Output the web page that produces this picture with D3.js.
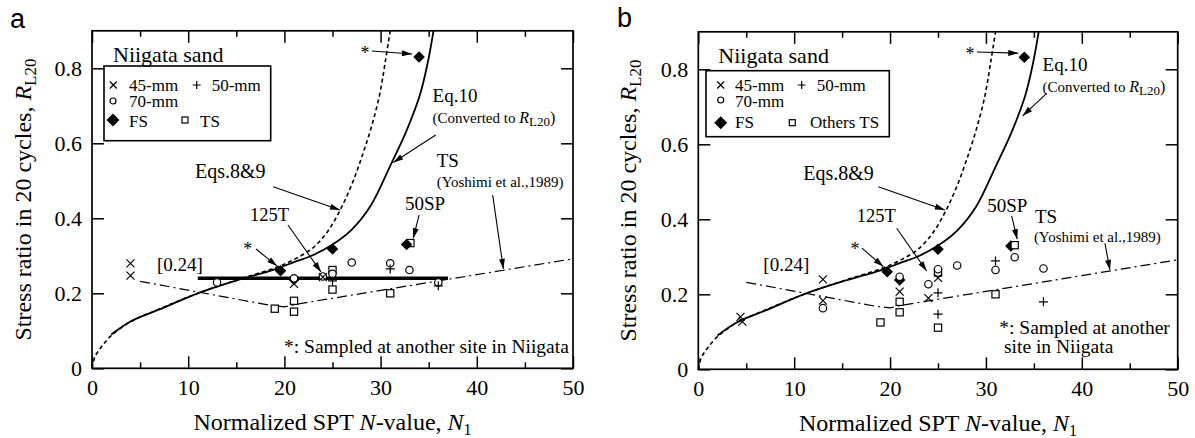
<!DOCTYPE html>
<html>
<head>
<meta charset="utf-8">
<script src="https://cdn.jsdelivr.net/npm/d3@7"></script>
<style>
body { margin: 0; background: #fff; }
</style>
</head>
<body>
<div id="chart"></div>
<script>
const N_TICKS = [0, 10, 20, 30, 40, 50]
const N_MINOR = [5, 15, 25, 35, 45]
const R_TICKS = [0, 0.2, 0.4, 0.6, 0.8]

// curves [N1, RL20]
const eq89 = [[0, 0], [0.3, 0.03], [1, 0.058], [2, 0.087], [4, 0.124], [7, 0.158], [11, 0.2], [15, 0.235],
  [19, 0.268], [21, 0.29], [23, 0.322], [24.5, 0.365], [25.8, 0.422], [27, 0.49], [28, 0.56], [29, 0.64],
  [29.9, 0.73], [30.5, 0.82], [31, 0.9]]
const eq10 = [[2, 0.09], [4, 0.125], [7, 0.157], [11, 0.2], [15, 0.234], [19, 0.264], [21, 0.283], [23, 0.302],
  [25, 0.33], [27, 0.37], [29, 0.435], [31, 0.54], [32.7, 0.634], [34.1, 0.73], [34.9, 0.815], [35.5, 0.9]]
const tsYoshimi = [[5, 0.232], [18.5, 0.168], [20, 0.164], [21.5, 0.172], [50, 0.292]]
const bar024 = [[11, 0.24], [37, 0.24]]

// panel a points
const a45 = [[4, 0.28], [4, 0.247], [21, 0.225], [24, 0.243]]
const a50 = [[25, 0.233], [31, 0.265], [36, 0.22]]
const a70 = [[13, 0.229], [21, 0.24], [24, 0.245], [25, 0.252], [27, 0.282], [31, 0.28], [33, 0.262], [36, 0.229]]
const aFS = [[19.6, 0.26], [21, 0.237], [25, 0.318], [32.7, 0.33], [34, 0.83]]
const aTS = [[19, 0.159], [21, 0.18], [21, 0.151], [25, 0.262], [25, 0.21], [31, 0.2], [33.1, 0.334]]

// panel b points
const b45 = [[4.4, 0.14], [4.6, 0.127], [13, 0.24], [13, 0.183], [21, 0.207], [24, 0.19], [25, 0.244]]
const b50 = [[25, 0.204], [25, 0.147], [31, 0.289], [36, 0.18]]
const b70 = [[13, 0.163], [21, 0.247], [24, 0.227], [25, 0.267], [27, 0.277], [31, 0.265], [33, 0.299], [36, 0.269]]
const bFS = [[19.7, 0.26], [21, 0.238], [25, 0.32], [32.6, 0.329], [34, 0.832]]
const bTS = [[19, 0.125], [21, 0.18], [21, 0.152], [25, 0.258], [25, 0.111], [31, 0.2], [33, 0.331]]

const W = 1195, H = 438

const svg = d3.select("#chart").append("svg")
  .attr("width", W)
  .attr("height", H)

const defs = svg.append("defs")
defs.append("marker")
  .attr("id", "arr")
  .attr("viewBox", "0 0 10 6")
  .attr("refX", 10).attr("refY", 3)
  .attr("markerWidth", 11).attr("markerHeight", 6)
  .attr("markerUnits", "userSpaceOnUse")
  .attr("orient", "auto")
  .append("path").attr("d", "M0,0L10,3L0,6Z").attr("fill", "#000")

function mark(sel, type, cx, cy, s) {
  if (type === "x") {
    sel.append("path")
      .attr("d", `M${cx - s},${cy - s}L${cx + s},${cy + s}M${cx - s},${cy + s}L${cx + s},${cy - s}`)
      .attr("stroke", "#000").attr("stroke-width", 1.2).attr("fill", "none")
  } else if (type === "+") {
    sel.append("path")
      .attr("d", `M${cx - s},${cy}L${cx + s},${cy}M${cx},${cy - s}L${cx},${cy + s}`)
      .attr("stroke", "#000").attr("stroke-width", 1.2).attr("fill", "none")
  } else if (type === "o") {
    sel.append("circle").attr("cx", cx).attr("cy", cy).attr("r", s)
      .attr("fill", "#fff").attr("stroke", "#000").attr("stroke-width", 1.2)
  } else if (type === "s") {
    sel.append("rect").attr("x", cx - s).attr("y", cy - s).attr("width", 2 * s).attr("height", 2 * s)
      .attr("fill", "#fff").attr("stroke", "#000").attr("stroke-width", 1.2)
  } else if (type === "d") {
    sel.append("path")
      .attr("d", `M${cx},${cy - s}L${cx + s},${cy}L${cx},${cy + s}L${cx - s},${cy}Z`)
      .attr("fill", "#000")
  }
}

const SIZE = { x: 4, "+": 4.5, o: 3.7, s: 3.6, d: 5.8 }

function drawPanel(cfg) {
  const g = svg.append("g").attr("transform", `translate(${cfg.left},${cfg.top})`)
  const x = d3.scaleLinear().domain([0, 50]).range([0, cfg.w])
  const y = d3.scaleLinear().domain([0, 0.9]).range([cfg.h, 0])

  // axes, ticks pointing inward
  const fmtR = d => d === 0 ? "0" : d3.format(".1f")(d)
  const ax = [
    g.append("g").attr("transform", `translate(0,${cfg.h})`)
      .call(d3.axisBottom(x).tickValues(N_TICKS).tickSize(-12).tickPadding(11)),
    g.append("g").attr("transform", `translate(0,${cfg.h})`)
      .call(d3.axisBottom(x).tickValues(N_MINOR).tickSize(-6).tickFormat("")),
    g.append("g").call(d3.axisTop(x).tickValues(N_TICKS).tickSize(-12).tickFormat("")),
    g.append("g").call(d3.axisTop(x).tickValues(N_MINOR).tickSize(-6).tickFormat("")),
    g.append("g").call(d3.axisLeft(y).tickValues(R_TICKS).tickSize(-12).tickPadding(10).tickFormat(fmtR)),
    g.append("g").attr("transform", `translate(${cfg.w},0)`)
      .call(d3.axisRight(y).tickValues(R_TICKS).tickSize(-12).tickFormat(""))
  ]
  ax.forEach(a => {
    a.attr("font-size", 22)
    a.select(".domain").remove()
    a.selectAll(".tick line").attr("stroke-width", 1.5)
  })

  g.append("rect")
    .attr("width", cfg.w).attr("height", cfg.h)
    .attr("fill", "none").attr("stroke", "#000").attr("stroke-width", 1.7)

  // axis titles
  const xt = g.append("text")
    .attr("x", cfg.w / 2).attr("y", cfg.h + 62)
    .attr("text-anchor", "middle").attr("font-size", 24)
  xt.append("tspan").text("Normalized SPT ")
  xt.append("tspan").attr("font-style", "italic").text("N")
  xt.append("tspan").text("-value, ")
  xt.append("tspan").attr("font-style", "italic").text("N")
  xt.append("tspan").attr("font-size", 16).attr("dy", 5).text("1")

  const yt = g.append("text")
    .attr("transform", `translate(${-cfg.ytOff},${cfg.h / 2}) rotate(-90)`)
    .attr("text-anchor", "middle").attr("font-size", 24)
  yt.append("tspan").text("Stress ratio in 20 cycles, ")
  yt.append("tspan").attr("font-style", "italic").text("R")
  yt.append("tspan").attr("font-size", 17).attr("dy", 5).text("L20")

  // curves
  const line = d3.line().x(d => x(d[0])).y(d => y(d[1]))
  const smooth = d3.line().x(d => x(d[0])).y(d => y(d[1])).curve(d3.curveCatmullRom)

  g.append("path").attr("d", line(tsYoshimi))
    .attr("fill", "none").attr("stroke", "#000").attr("stroke-width", 1.2)
    .attr("stroke-dasharray", "10,4,2,4")
  g.append("path").attr("d", smooth(eq89))
    .attr("fill", "none").attr("stroke", "#000").attr("stroke-width", 1.6)
    .attr("stroke-dasharray", "4,3")
  g.append("path").attr("d", smooth(eq10))
    .attr("fill", "none").attr("stroke", "#000").attr("stroke-width", 1.8)
  if (cfg.bar) {
    g.append("path").attr("d", line(bar024))
      .attr("fill", "none").attr("stroke", "#000").attr("stroke-width", 3.5)
  }

  // points
  const pts = g.append("g")
  cfg.series.forEach(([type, arr]) => {
    arr.forEach(d => mark(pts, type, x(d[0]), y(d[1]), SIZE[type]))
  })

  // legend
  const lg = g.append("g").attr("transform", `translate(${cfg.legend.x},${cfg.legend.y})`)
  lg.append("rect").attr("width", cfg.legend.w).attr("height", cfg.legend.h)
    .attr("fill", "#fff").attr("stroke", "#000").attr("stroke-width", 1.6)
  lg.append("text").attr("x", cfg.legend.title[0]).attr("y", cfg.legend.title[1])
    .attr("font-size", 22).text("Niigata sand")
  const LSIZE = { x: 3.5, "+": 4, o: 3, s: 3, d: 6.5 }
  cfg.legend.items.forEach(it => {
    mark(lg, it.sym, it.sx, it.sy, LSIZE[it.sym])
    lg.append("text").attr("x", it.tx).attr("y", it.ty).attr("font-size", 17).text(it.t)
  })

  // annotations
  cfg.texts.forEach(a => {
    const t = g.append("text")
      .attr("x", x(a.at[0])).attr("y", y(a.at[1]))
      .attr("font-size", a.fs || 19)
      .attr("text-anchor", a.anchor || "start")
    if (a.conv) {
      t.append("tspan").text("(Converted to ")
      t.append("tspan").attr("font-style", "italic").attr("font-size", 16).text("R")
      t.append("tspan").attr("font-size", 13).attr("dy", 3).text("L20")
      t.append("tspan").attr("font-size", 16).attr("dy", -3).text(")")
    } else {
      t.text(a.t)
    }
  })
  cfg.arrows.forEach(a => {
    g.append("line")
      .attr("x1", x(a[0][0])).attr("y1", y(a[0][1]))
      .attr("x2", x(a[1][0])).attr("y2", y(a[1][1]))
      .attr("stroke", "#000").attr("stroke-width", 1.1)
      .attr("marker-end", "url(#arr)")
  })
}

drawPanel({
  left: 92, top: 30.8, w: 481, h: 337.5, ytOff: 61, bar: true,
  series: [["s", aTS], ["d", aFS], ["o", a70], ["x", a45], ["+", a50]],
  legend: {
    x: 12, y: 35.2, w: 166.7, h: 74.7, title: [9, -4.3],
    items: [
      { sym: "x", sx: 9.3, sy: 19, tx: 25, ty: 24.7, t: "45-mm" },
      { sym: "+", sx: 92.7, sy: 19, tx: 107.7, ty: 24.7, t: "50-mm" },
      { sym: "o", sx: 9, sy: 35, tx: 25, ty: 40.7, t: "70-mm" },
      { sym: "d", sx: 9, sy: 54, tx: 25, ty: 61, t: "FS" },
      { sym: "s", sx: 81, sy: 54, tx: 96, ty: 61, t: "TS" }
    ]
  },
  texts: [
    { t: "Eqs.8&9", at: [10.71, 0.507], fs: 20 },
    { t: "125T", at: [16.42, 0.393], fs: 18.5 },
    { t: "*", at: [16.2, 0.302], fs: 18, anchor: "middle" },
    { t: "*", at: [28.38, 0.825], fs: 18, anchor: "middle" },
    { t: "Eq.10", at: [35.4, 0.711] },
    { conv: true, at: [35.4, 0.654], fs: 15 },
    { t: "TS", at: [35.83, 0.538] },
    { t: "(Yoshimi et al.,1989)", at: [35.83, 0.484], fs: 15 },
    { t: "50SP", at: [32.54, 0.422] },
    { t: "[0.24]", at: [6.76, 0.259] },
    { t: "*: Sampled at another site in Niigata", at: [19.96, 0.04], fs: 19.5 }
  ],
  arrows: [
    [[18.82, 0.484], [25.78, 0.422]],
    [[20.37, 0.382], [23.8, 0.257]],
    [[17.05, 0.318], [19.23, 0.273]],
    [[29.1, 0.846], [33.26, 0.838]],
    [[35.73, 0.622], [31.32, 0.549]],
    [[41.65, 0.462], [42.76, 0.265]],
    [[34.0, 0.409], [33.4, 0.347]]
  ]
})

drawPanel({
  left: 698.3, top: 31.8, w: 479.4, h: 337.5, ytOff: 62, bar: false,
  series: [["d", bFS], ["s", bTS], ["o", b70], ["x", b45], ["+", b50]],
  legend: {
    x: 7.7, y: 38.9, w: 183.3, h: 66, title: [12.3, -7.4],
    items: [
      { sym: "x", sx: 14.7, sy: 14.3, tx: 29, ty: 20, t: "45-mm" },
      { sym: "+", sx: 95.7, sy: 14.3, tx: 110.7, ty: 20, t: "50-mm" },
      { sym: "o", sx: 14.7, sy: 29.3, tx: 29, ty: 36, t: "70-mm" },
      { sym: "d", sx: 14.7, sy: 52, tx: 29, ty: 57.6, t: "FS" },
      { sym: "s", sx: 86.3, sy: 52, tx: 104, ty: 57.6, t: "Others TS" }
    ]
  },
  texts: [
    { t: "Eqs.8&9", at: [10.95, 0.505], fs: 20 },
    { t: "125T", at: [16.52, 0.394], fs: 18.5 },
    { t: "*", at: [16.34, 0.305], fs: 18, anchor: "middle" },
    { t: "*", at: [28.33, 0.825], fs: 18, anchor: "middle" },
    { t: "Eq.10", at: [35.91, 0.795] },
    { conv: true, at: [35.91, 0.74], fs: 15 },
    { t: "50SP", at: [30.14, 0.42] },
    { t: "TS", at: [35.11, 0.391] },
    { t: "(Yoshimi et al.,1989)", at: [35.0, 0.34], fs: 15 },
    { t: "[0.24]", at: [6.78, 0.263] },
    { t: "*: Sampled at another", at: [31.39, 0.094], fs: 19.5 },
    { t: "site in Niigata", at: [31.88, 0.043], fs: 19.5 }
  ],
  arrows: [
    [[18.77, 0.487], [25.72, 0.425]],
    [[20.69, 0.376], [23.82, 0.262]],
    [[17.07, 0.323], [19.29, 0.274]],
    [[29.06, 0.846], [33.37, 0.843]],
    [[36.33, 0.736], [33.83, 0.676]],
    [[32.68, 0.409], [33.26, 0.347]],
    [[42.41, 0.336], [42.93, 0.265]]
  ]
})

// every text in serif, set on the element itself
svg.selectAll("text").style("font-family", "Liberation Serif")

// panel letters (sans)
svg.append("text").attr("x", 10).attr("y", 28).attr("font-size", 27)
  .style("font-family", "Liberation Sans").text("a")
svg.append("text").attr("x", 617).attr("y", 27).attr("font-size", 27)
  .style("font-family", "Liberation Sans").text("b")
</script>
</body>
</html>
